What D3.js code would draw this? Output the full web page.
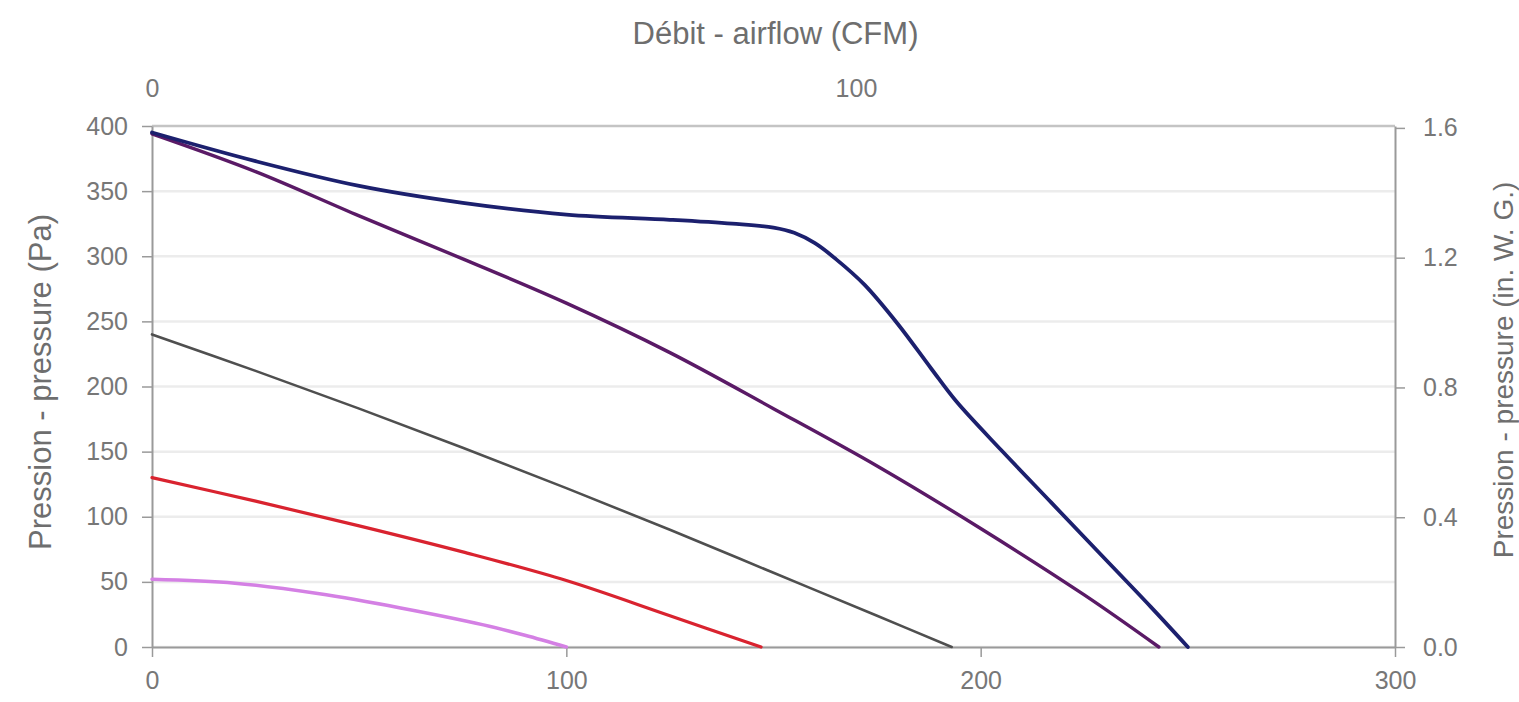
<!DOCTYPE html>
<html>
<head>
<meta charset="utf-8">
<script src="https://cdn.jsdelivr.net/npm/d3@7"></script>
<style>
  html, body { margin: 0; padding: 0; background: #ffffff; }
  svg text { font-family: "Liberation Sans", Arial, sans-serif; }
</style>
</head>
<body>
<svg id="chart" width="1519" height="702"></svg>
<script>
// ---- Data (x: airflow m³/h, y: pressure Pa) ----
const navyFlow   = [0, 25, 50, 75, 100, 125, 140, 150, 155, 160, 165, 172, 180, 188, 194, 205, 217, 229, 241, 250];
const navyPa     = [395, 373, 354, 341, 332, 328, 325, 322, 318, 310, 298, 278, 248, 214, 189, 151, 111, 71, 31, 0];
const purpleFlow = [0, 25, 50, 75, 100, 125, 150, 175, 200, 225, 243];
const purplePa   = [394, 365, 331, 298, 264, 226, 183, 139, 91, 40, 0];
const grayFlow   = [0, 25, 50, 75, 100, 125, 150, 175, 193];
const grayPa     = [240, 212, 183, 153, 122, 90, 57, 24, 0];
const redFlow    = [0, 25, 50, 75, 100, 125, 147];
const redPa      = [130, 112, 93, 73, 51, 24, 0];
const pinkFlow   = [0, 20, 40, 60, 80, 90, 100];
const pinkPa     = [52, 49, 41, 30, 17, 9, 0];

const bottomTicks = [0, 100, 200, 300];
const topTicks    = [0, 100];
const leftTicks   = [0, 50, 100, 150, 200, 250, 300, 350, 400];
const rightTicks  = [0, 0.4, 0.8, 1.2, 1.6];

const titleTop   = "Débit - airflow (CFM)";
const titleLeft  = "Pression - pressure (Pa)";
const titleRight = "Pression - pressure (in. W. G.)";

const M3H_PER_CFM = 1.699;
const PA_PER_INWG = 249.089;

// ---- Layout ----
const svg = d3.select("#chart");
const pL = 152, pR = 1395, pT = 126, pB = 647;

const x = d3.scaleLinear().domain([0, 300]).range([pL, pR]);
const xTop = d3.scaleLinear().domain([0, 300 / M3H_PER_CFM]).range([pL, pR]);
const y = d3.scaleLinear().domain([0, 400]).range([pB, pT]);
const yRight = d3.scaleLinear().domain([0, 400 / PA_PER_INWG]).range([pB, pT]);

const axisColor = "#9a9a9a";
const textColor = "#777777";

// gridlines
svg.append("g")
  .selectAll("line")
  .data(leftTicks)
  .join("line")
  .attr("x1", pL).attr("x2", pR)
  .attr("y1", d => y(d)).attr("y2", d => y(d))
  .attr("stroke", d => d === 400 ? "#c4c4c4" : "#ececec")
  .attr("stroke-width", 2.5);

function styleAxis(g, fs) {
  g.select(".domain").attr("stroke", axisColor).attr("stroke-width", 2);
  g.selectAll(".tick line").attr("stroke", axisColor).attr("stroke-width", 1.5);
  g.selectAll(".tick text").attr("fill", textColor).attr("font-size", fs);
}

// bottom axis
svg.append("g")
  .attr("transform", `translate(0,${pB})`)
  .call(d3.axisBottom(x).tickValues(bottomTicks).tickSize(10).tickPadding(14).tickSizeOuter(0))
  .call(g => styleAxis(g, 25));

// top axis
svg.append("g")
  .attr("transform", `translate(0,${pT})`)
  .call(d3.axisTop(xTop).tickValues(topTicks).tickSize(0).tickPadding(29).tickSizeOuter(0))
  .call(g => { styleAxis(g, 25); g.select(".domain").remove(); });

// left axis
svg.append("g")
  .attr("transform", `translate(${pL},0)`)
  .call(d3.axisLeft(y).tickValues(leftTicks).tickSize(10).tickPadding(14).tickSizeOuter(0))
  .call(g => styleAxis(g, 25));

// right axis
svg.append("g")
  .attr("transform", `translate(${pR},0)`)
  .call(d3.axisRight(yRight).tickValues(rightTicks).tickFormat(d3.format(".1f")).tickSize(10).tickPadding(18).tickSizeOuter(0))
  .call(g => styleAxis(g, 25));

// titles
svg.append("text")
  .attr("x", (pL + pR) / 2 + 2).attr("y", 33)
  .attr("text-anchor", "middle").attr("dominant-baseline", "central")
  .attr("fill", "#6e6e6e").attr("font-size", 31)
  .text(titleTop);

svg.append("text")
  .attr("transform", `translate(40,382) rotate(-90)`)
  .attr("text-anchor", "middle").attr("dominant-baseline", "central")
  .attr("fill", "#6e6e6e").attr("font-size", 31)
  .text(titleLeft);

svg.append("text")
  .attr("transform", `translate(1503,370) rotate(-90)`)
  .attr("text-anchor", "middle").attr("dominant-baseline", "central")
  .attr("fill", "#6e6e6e").attr("font-size", 28)
  .text(titleRight);

// curves
const line = d3.line()
  .x(d => x(d[0]))
  .y(d => y(d[1]))
  .curve(d3.curveCatmullRom.alpha(0.5));

const series = [
  { flow: pinkFlow,   pa: pinkPa,   color: "#d480e4", width: 3.5 },
  { flow: redFlow,    pa: redPa,    color: "#d9232f", width: 3.2 },
  { flow: grayFlow,   pa: grayPa,   color: "#4f4f4f", width: 2.6 },
  { flow: purpleFlow, pa: purplePa, color: "#5a1a66", width: 3.4 },
  { flow: navyFlow,   pa: navyPa,   color: "#1c206e", width: 3.8 }
];

svg.append("g")
  .selectAll("path")
  .data(series)
  .join("path")
  .attr("d", s => line(s.flow.map((f, i) => [f, s.pa[i]])))
  .attr("fill", "none")
  .attr("stroke", s => s.color)
  .attr("stroke-width", s => s.width)
  .attr("stroke-linejoin", "round")
  .attr("stroke-linecap", "round");
</script>
</body>
</html>
